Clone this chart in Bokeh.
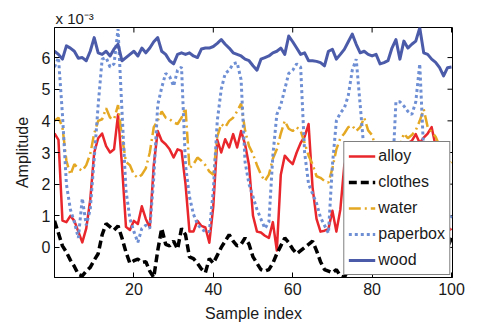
import math
from bokeh.plotting import figure
from bokeh.models import Range1d, FixedTicker, Legend, LegendItem
from bokeh.embed import file_html
from bokeh.resources import INLINE

# ---- data (amplitude in units of 1e-3) ----
sample_index = list(range(101))

alloy = [3.6, 3.4, 0.85, 0.8, 1.0, 0.84, 0.5, 0.16, 0.6, 1.5,
         3.0, 3.45, 3.6, 3.2, 3.0, 3.1, 4.2, 2.6, 0.65, 0.55,
         0.84, 0.74, 1.3, 0.9, 0.63, 2.6, 3.68, 3.37, 3.26, 3.1,
         2.84, 3.1, 3.05, 2.0, 0.5, 0.5, 0.84, 0.68, 0.63, 0.15,
         1.3, 3.4, 3.0, 3.42, 3.16, 3.58, 3.16, 3.68, 3.26, 2.6,
         1.0, 0.5, 0.47, 0.37, 0.3, 0.8, -0.1, 2.3, 2.9, 2.75,
         2.63, 3.0, 3.3, 3.5, 3.9, 1.9, 0.9, 0.5, 0.53, 0.58,
         1.16, 0.5, 1.2, 2.6, 3.0, 3.1, 2.9, 3.0, 3.1, 2.8,
         2.0, 0.7, 0.5, 0.6, 0.4, 0.5, 0.3, 1.5, 2.9, 3.3,
         3.37, 3.58, 3.3, 3.47, 3.6, 3.8, 3.2, 2.0, 0.7, 0.5,
         0.6]

clothes = [0.84, 0.45, 0.05, -0.15, -0.4, -0.6, -0.85, -0.9, -0.75, -0.63,
           -0.4, -0.2, 0.4, 0.75, 0.65, 0.55, 0.68, 0.3, -0.15, -0.5,
           -0.42, -0.37, -0.47, -0.45, -0.75, -0.95, -0.1, 0.6, 0.1, 0.05,
           0.2, -0.05, 0.6, 0.4, -0.3, -0.35, -0.5, -0.68, -0.8, -0.35,
           -0.5, -0.25, 0.0, 0.2, 0.4, 0.2, 0.05, 0.1, 0.3, 0.1,
           -0.3, -0.5, -0.7, -0.75, -0.7, -0.5, -0.2, 0.05, 0.3, 0.15,
           -0.05, -0.2, -0.1, 0.0, 0.1, 0.2, -0.1, -0.45, -0.7, -0.75,
           -0.8, -0.7, -0.9, -0.95, -0.7, -0.3, 0.2, 0.5, 0.3, 0.1,
           0.2, -0.1, -0.4, -0.6, -0.8, -0.5, -0.1, 0.3, 0.5, 0.2,
           0.0, 0.1, 0.3, -0.1, -0.4, -0.6, -0.8, -0.7, -0.4, 0.0,
           0.3]

water = [4.0, 4.1, 3.8, 2.74, 2.3, 2.63, 2.5, 2.42, 2.6, 2.95,
         3.6, 4.0, 4.05, 4.4, 4.1, 4.05, 4.5, 3.5, 2.7, 2.6,
         2.3, 2.2, 2.3, 2.5, 3.0, 3.8, 4.0, 4.3, 4.1, 4.05,
         3.95, 3.9, 4.1, 4.4, 2.5, 2.63, 2.84, 2.74, 2.6, 2.4,
         2.3, 3.5, 3.9, 3.8, 4.0, 4.1, 4.3, 4.55, 3.7, 3.2,
         2.95, 2.6, 2.3, 2.1, 2.3, 2.8, 3.1, 3.6, 4.0, 3.75,
         3.68, 3.8, 3.68, 3.3, 2.9, 2.63, 2.25, 2.2, 2.1, 2.05,
         2.5, 3.1, 3.45, 3.6, 3.8, 3.85, 3.68, 3.8, 4.1, 3.7,
         3.55, 3.1, 2.6, 2.4, 2.3, 2.2, 2.4, 3.2, 3.6, 3.45,
         3.55, 3.7, 4.0, 4.37, 3.8, 3.65, 3.5, 3.2, 2.8, 2.6,
         2.7]

paperbox = [5.7, 6.0, 4.2, 2.0, 1.2, 0.8, 0.3, 1.55, 0.7, 1.2,
            2.8, 4.5, 5.95, 6.0, 5.7, 5.8, 6.9, 4.3, 1.8, 0.9,
            0.5, 0.16, 0.6, 0.7, 0.6, 2.2, 4.5, 5.05, 5.5, 5.4,
            5.1, 5.6, 5.7, 2.6, 1.6, 1.05, 0.74, 0.58, 0.5, 0.5,
            1.8, 4.0, 5.0, 5.5, 5.6, 5.8, 5.84, 5.3, 2.7, 2.0,
            1.6, 1.2, 0.9, 0.6, 0.8, 2.9, 4.2, 4.5, 5.0, 5.5,
            5.6, 5.8, 5.7, 3.0, 2.0, 1.7, 1.4, 0.95, 0.7, 0.45,
            2.6, 4.0, 4.25, 4.4, 4.8, 5.6, 5.95, 4.5, 3.0, 2.0,
            1.4, 1.0, 0.7, 0.6, 0.8, 2.0, 4.6, 4.6, 4.47, 4.3,
            4.2, 4.6, 5.8, 3.0, 1.8, 1.2, 0.9, 0.7, 0.6, 0.8,
            1.0]

wood = [6.2, 6.1, 5.95, 6.37, 6.3, 6.2, 5.98, 6.0, 5.9, 6.2,
        6.63, 6.15, 6.1, 6.2, 6.05, 6.27, 6.42, 5.9, 6.0, 6.1,
        6.2, 6.05, 6.3, 6.15, 6.3, 6.5, 6.63, 6.2, 6.1, 5.9,
        5.8, 6.1, 6.15, 6.1, 6.15, 6.05, 6.0, 6.27, 6.3, 6.3,
        6.35, 6.45, 6.57, 6.42, 6.3, 6.15, 6.1, 6.05, 5.95, 5.9,
        5.74, 5.6, 5.95, 6.0, 6.05, 6.15, 6.2, 6.3, 6.1, 6.68,
        6.5, 6.3, 6.1, 6.15, 5.9, 5.9, 5.88, 5.84, 5.74, 6.2,
        6.26, 5.95, 6.1, 6.26, 6.5, 6.74, 6.42, 6.15, 6.2, 6.1,
        6.05, 6.1, 5.8, 5.84, 5.9, 6.3, 6.57, 5.95, 6.52, 6.3,
        6.42, 6.52, 6.94, 6.15, 6.1, 5.95, 5.85, 5.68, 5.42, 5.68,
        5.7]

x_ticks = [20, 40, 60, 80, 100]
y_ticks = [0, 1, 2, 3, 4, 5, 6]
series_names = ["alloy", "clothes", "water", "paperbox", "wood"]

X_LO, X_HI = 0, 100.25
Y_LO, Y_HI = -0.95, 6.95

FONT = "Liberation Sans"
TXT = "#1a1a1a"

p = figure(width=478, height=328, output_backend="svg", toolbar_location=None,
           x_range=Range1d(X_LO, X_HI), y_range=Range1d(Y_LO, Y_HI),
           min_border_left=54, min_border_right=26, min_border_top=27,
           min_border_bottom=51, title="x 10\u207b\u00b3")
p.background_fill_color = "white"
p.border_fill_color = "white"
p.outline_line_color = "black"
p.outline_line_width = 1
p.xgrid.visible = False
p.ygrid.visible = False

p.title.align = "left"
p.title.offset = 1
p.title.standoff = 1
p.title.text_font = FONT
p.title.text_font_size = "15px"
p.title.text_font_style = "normal"
p.title.text_color = TXT

for ax in (p.xaxis[0], p.yaxis[0]):
    ax.major_tick_in = 5
    ax.major_tick_out = 0
    ax.minor_tick_line_color = None
    ax.axis_line_color = "black"
    ax.major_tick_line_color = "black"
    ax.major_label_text_font = FONT
    ax.major_label_text_font_size = "16px"
    ax.major_label_text_color = TXT
    ax.axis_label_text_font = FONT
    ax.axis_label_text_font_size = "16px"
    ax.axis_label_text_font_style = "normal"
    ax.axis_label_text_color = TXT

p.xaxis.ticker = FixedTicker(ticks=x_ticks)
p.yaxis.ticker = FixedTicker(ticks=y_ticks)
p.xaxis.axis_label = "Sample index"
p.yaxis.axis_label = "Amplitude"
p.xaxis.major_label_standoff = 5
p.xaxis.axis_label_standoff = 7
p.yaxis.major_label_standoff = 4
p.yaxis.axis_label_standoff = 8

# box ticks on the top and right edges (half of each dash is clipped by the frame)
p.scatter(x_ticks, [Y_HI] * len(x_ticks), marker="dash", size=10, angle=math.pi / 2,
          line_color="black", line_width=1)
p.scatter([X_HI] * len(y_ticks), y_ticks, marker="dash", size=10,
          line_color="black", line_width=1)

r_alloy = p.line(sample_index, alloy, line_color="#e8262b", line_width=2.5, line_join="round")
r_clothes = p.line(sample_index, clothes, line_color="black", line_width=3.5,
                   line_dash="8 4")
r_water = p.line(sample_index, water, line_color="#e5a823", line_width=2.5,
                 line_dash="12 4 2 4")
r_paper = p.line(sample_index, paperbox, line_color="#6f8fd4", line_width=3,
                 line_dash="3 3")
r_wood = p.line(sample_index, wood, line_color="#4b5ba9", line_width=3, line_join="round")

legend = Legend(items=[LegendItem(label=n, renderers=[r]) for n, r in
                       zip(series_names, [r_alloy, r_clothes, r_water, r_paper, r_wood])],
                location="bottom_right")
legend.margin = 2
legend.padding = 4
legend.spacing = 6
legend.glyph_width = 27
legend.glyph_height = 20
legend.label_height = 20
legend.label_standoff = 3
legend.label_text_font = FONT
legend.label_text_font_size = "16px"
legend.label_text_color = TXT
legend.border_line_color = "black"
legend.border_line_width = 1
legend.background_fill_color = "white"
legend.background_fill_alpha = 1
p.add_layout(legend)

open("out.html", "w").write(file_html(p, INLINE))
